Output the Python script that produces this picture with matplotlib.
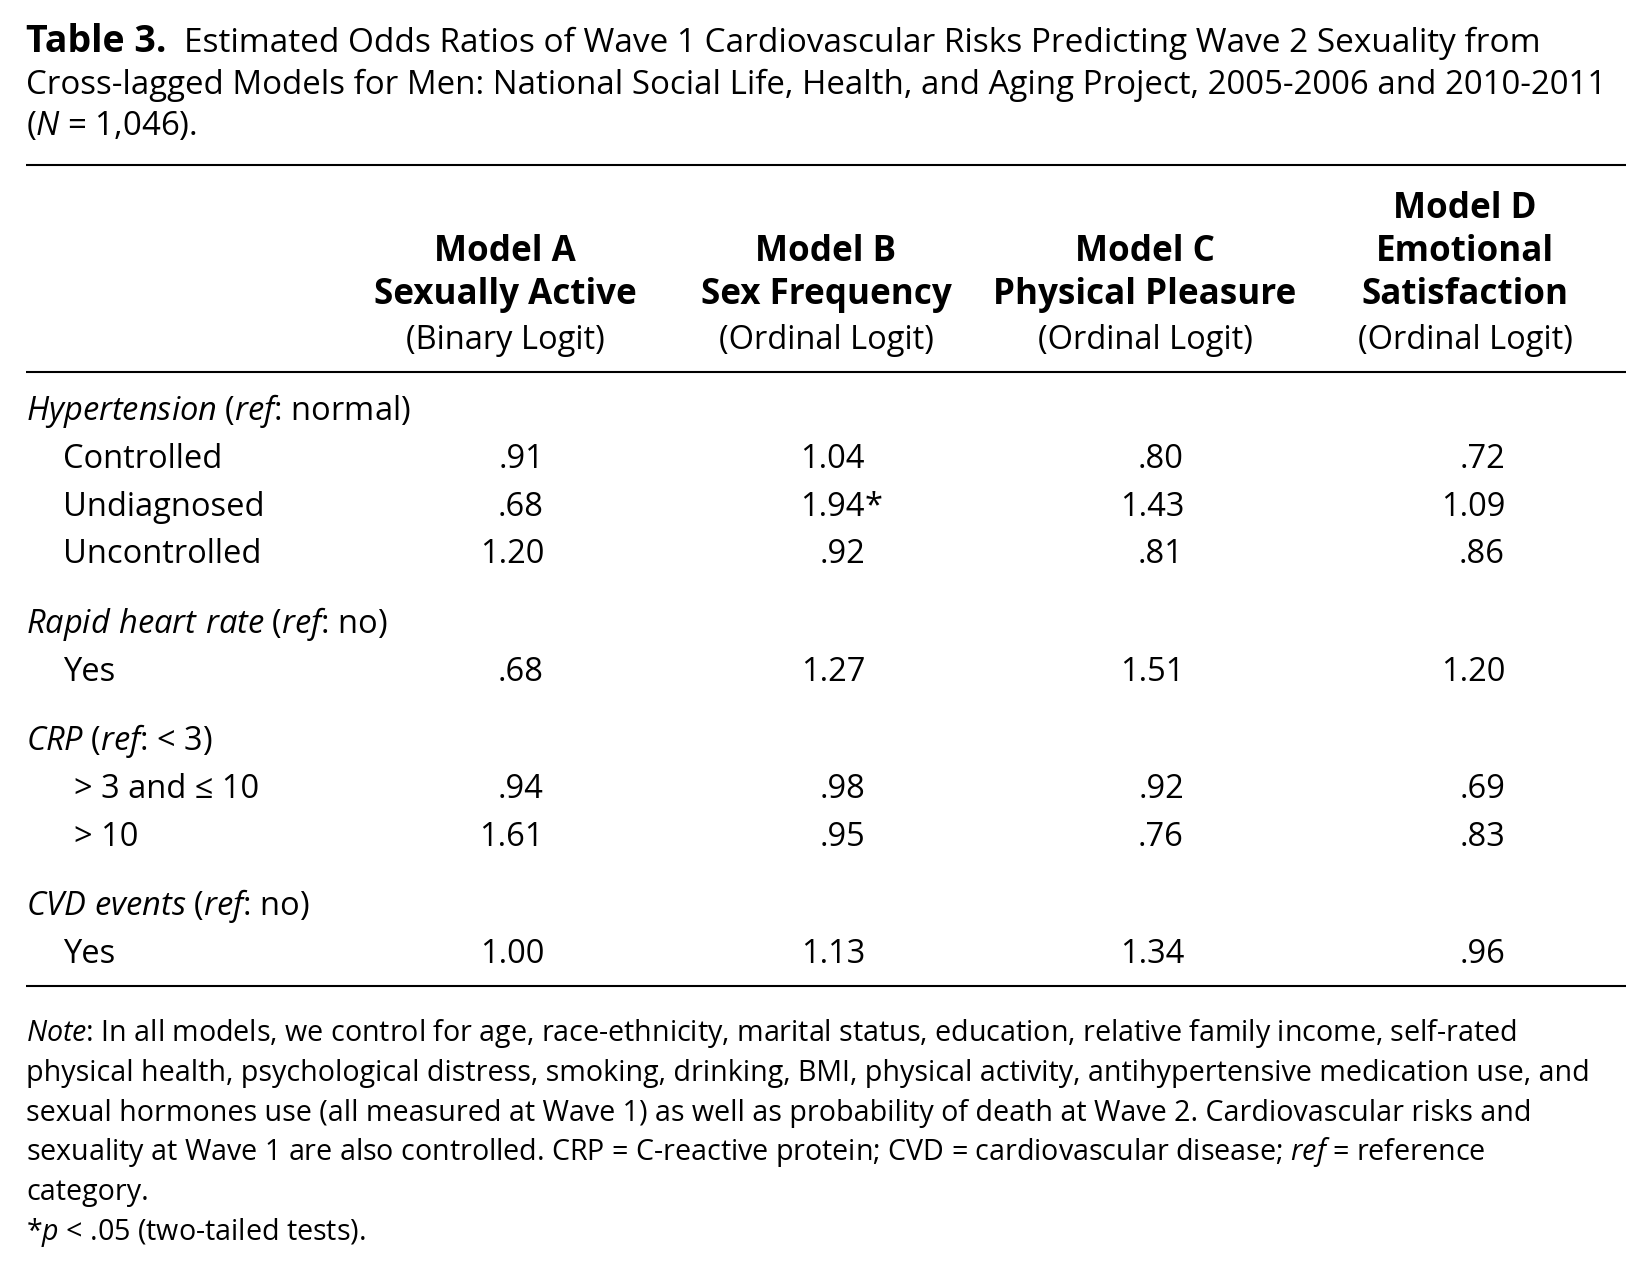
import matplotlib
matplotlib.use('Agg')
import matplotlib.pyplot as plt

plt.rcParams['font.family'] = ['Open Sans', 'DejaVu Sans']
plt.rcParams['mathtext.fontset'] = 'custom'
plt.rcParams['mathtext.rm'] = 'Open Sans'
plt.rcParams['mathtext.it'] = 'Open Sans:italic'
plt.rcParams['mathtext.bf'] = 'Open Sans:bold'

# table contents
table_label = "Table 3."
title_lines = [
    "Estimated Odds Ratios of Wave 1 Cardiovascular Risks Predicting Wave 2 Sexuality from",
    "Cross-lagged Models for Men: National Social Life, Health, and Aging Project, 2005-2006 and 2010-2011",
    r"($\mathit{N}$ = 1,046).",
]
model_names = ["Model A", "Model B", "Model C", "Model D"]
outcomes = [["Sexually Active"], ["Sex Frequency"], ["Physical Pleasure"], ["Emotional", "Satisfaction"]]
model_types = ["(Binary Logit)", "(Ordinal Logit)", "(Ordinal Logit)", "(Ordinal Logit)"]

groups = [
    r"$\mathit{Hypertension}$ ($\mathit{ref}$: normal)",
    r"$\mathit{Rapid\ heart\ rate}$ ($\mathit{ref}$: no)",
    r"$\mathit{CRP}$ ($\mathit{ref}$: < 3)",
    r"$\mathit{CVD\ events}$ ($\mathit{ref}$: no)",
]
group_items = [
    ["Controlled", "Undiagnosed", "Uncontrolled"],
    ["Yes"],
    ["> 3 and \u2264 10", "> 10"],
    ["Yes"],
]
model_a = [0.91, 0.68, 1.20, 0.68, 0.94, 1.61, 1.00]
model_b = [1.04, 1.94, 0.92, 1.27, 0.98, 0.95, 1.13]
model_c = [0.80, 1.43, 0.81, 1.51, 0.92, 0.76, 1.34]
model_d = [0.72, 1.09, 0.86, 1.20, 0.69, 0.83, 0.96]
signif_b = [False, True, False, False, False, False, False]

note_lines = [
    r"$\mathit{Note}$: In all models, we control for age, race-ethnicity, marital status, education, relative family income, self-rated",
    "physical health, psychological distress, smoking, drinking, BMI, physical activity, antihypertensive medication use, and",
    "sexual hormones use (all measured at Wave 1) as well as probability of death at Wave 2. Cardiovascular risks and",
    r"sexuality at Wave 1 are also controlled. CRP = C-reactive protein; CVD = cardiovascular disease; $\mathit{ref}$ = reference",
    "category.",
    r"*$\mathit{p}$ < .05 (two-tailed tests).",
]


def fmt(v):
    s = f"{v:.2f}"
    return s[1:] if s.startswith("0") else s


fig = plt.figure(figsize=(16.5, 12.71), dpi=100)
ax = fig.add_axes([0, 0, 1, 1])
ax.set_xlim(0, 1650)
ax.set_ylim(1271, 0)
ax.axis('off')

fs = 23.5
fs_title = 24
fs_bold = 25.2
left = 26

# title block
ax.text(left, 52, table_label, fontsize=27, fontweight='bold', va='baseline', ha='left')
ax.text(184, 52, title_lines[0], fontsize=fs_title, va='baseline', ha='left')
for i, line in enumerate(title_lines[1:], start=1):
    ax.text(left, 52 + 41.6 * i, line, fontsize=23.75, va='baseline', ha='left')

for yr in [165, 372, 986]:
    ax.plot([left, 1626], [yr, yr], color='black', lw=1.5, solid_capstyle='butt')

# column headers
col_centers = [505, 826, 1145, 1465]
col_rights = [544, 865, 1184, 1505]
for c, name, outc, typ in zip(col_centers, model_names, outcomes, model_types):
    bold_lines = [name] + outc
    y = 304 - 43 * (len(bold_lines) - 1)
    for bl in bold_lines:
        ax.text(c, y, bl, fontsize=fs_bold, fontweight='bold', ha='center', va='baseline')
        y += 43
    ax.text(c, 349, typ, fontsize=fs, ha='center', va='baseline')

# body
columns = [model_a, model_b, model_c, model_d]
y = 420
k = 0
for g, items in zip(groups, group_items):
    ax.text(left, y, g, fontsize=fs, va='baseline', ha='left')
    for it in items:
        y += 47.8
        x0 = 74 if it.startswith(">") else 63
        ax.text(x0, y, it, fontsize=fs, va='baseline', ha='left')
        for j, col in enumerate(columns):
            ax.text(col_rights[j], y, fmt(col[k]), fontsize=fs, va='baseline', ha='right')
        if signif_b[k]:
            ax.text(col_rights[1], y, "*", fontsize=fs, va='baseline', ha='left')
        k += 1
    y += 69.5

# notes
for i, line in enumerate(note_lines):
    ax.text(left, 1041 + 39.8 * i, line, fontsize=20.6, va='baseline', ha='left')

fig.savefig('out.png', dpi=100, facecolor='white')
